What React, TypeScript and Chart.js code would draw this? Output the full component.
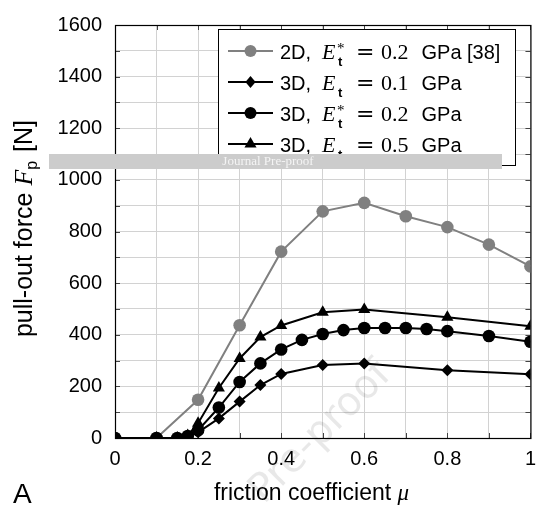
import React, { useEffect, useRef } from 'react';
import { Chart, registerables } from 'chart.js';

Chart.register(...registerables);

// ---------------- data ----------------
const mu2D = [0, 0.1, 0.2, 0.3, 0.4, 0.5, 0.6, 0.7, 0.8, 0.9, 1.0];
const force2D = [0, 0, 148, 437, 722, 878, 911, 859, 817, 749, 665];

const mu3D01 = [0, 0.1, 0.15, 0.175, 0.2, 0.25, 0.3, 0.35, 0.4, 0.5, 0.6, 0.8, 1.0];
const force3D01 = [0, 0, 0, 5, 22, 76, 141, 205, 248, 283, 289, 262, 247];

const mu3D02 = [0, 0.1, 0.15, 0.175, 0.2, 0.25, 0.3, 0.35, 0.4, 0.45, 0.5, 0.55, 0.6, 0.65, 0.7, 0.75, 0.8, 0.9, 1.0];
const force3D02 = [0, 0, 0, 8, 30, 118, 217, 289, 343, 380, 403, 418, 426, 426, 426, 422, 414, 395, 373];

const mu3D05 = [0, 0.1, 0.15, 0.175, 0.2, 0.25, 0.3, 0.35, 0.4, 0.5, 0.6, 0.8, 1.0];
const force3D05 = [0, 0, 0, 10, 57, 194, 308, 391, 436, 487, 498, 468, 433];

const xTickValues = [0, 0.2, 0.4, 0.6, 0.8, 1];
const xTickLabels = ['0', '0.2', '0.4', '0.6', '0.8', '1'];
const yTickValues = [0, 200, 400, 600, 800, 1000, 1200, 1400, 1600];
const yTickLabels = ['0', '200', '400', '600', '800', '1000', '1200', '1400', '1600'];

// legend rows: prefix, star superscript?, value, unit, reference
const legendPrefix = ['2D, ', '3D, ', '3D, ', '3D, '];
const legendStar = [true, false, true, false];
const legendValue = ['0.2', '0.1', '0.2', '0.5'];
const legendUnit = ['GPa', 'GPa', 'GPa', 'GPa'];
const legendRef = ['[38]', '', '', ''];
const legendMarker = ['circle', 'rectRot', 'circle', 'triangle'];
const legendColor = ['#808080', '#000000', '#000000', '#000000'];

const xTitle = 'friction coefficient ';
const xTitleSymbol = 'μ';
const yTitleText = 'pull-out force ';
const yTitleSymbol = 'F';
const yTitleSub = 'p';
const yTitleUnit = ' [N]';
const panelLabel = 'A';
const barText = 'Journal Pre-proof';
const diagText = 'Pre-proof';

const SANS = "'Liberation Sans', Arial, sans-serif";
const SERIF = "'Liberation Serif', 'Times New Roman', serif";
const MATH = "'DejaVu Serif', serif";

function pairs(xs: number[], ys: number[]) {
  return xs.map((x, i) => ({ x, y: ys[i] }));
}

function drawMarker(ctx: CanvasRenderingContext2D, style: string, x: number, y: number, r: number, color: string) {
  ctx.save();
  ctx.fillStyle = color;
  ctx.beginPath();
  if (style === 'circle') {
    ctx.arc(x, y, r, 0, Math.PI * 2);
  } else if (style === 'rectRot') {
    ctx.moveTo(x, y - r);
    ctx.lineTo(x + r * 0.85, y);
    ctx.lineTo(x, y + r);
    ctx.lineTo(x - r * 0.85, y);
    ctx.closePath();
  } else if (style === 'triangle') {
    ctx.moveTo(x, y - r);
    ctx.lineTo(x + r * 0.866, y + r * 0.5);
    ctx.lineTo(x - r * 0.866, y + r * 0.5);
    ctx.closePath();
  }
  ctx.fill();
  ctx.restore();
}

const decorPlugin = {
  id: 'decor',
  beforeDatasetsDraw(chart: any) {
    const ctx: CanvasRenderingContext2D = chart.ctx;
    const { left, right, top, bottom } = chart.chartArea;
    const xs = chart.scales.x;
    const ys = chart.scales.y;

    // diagonal watermark
    ctx.save();
    ctx.translate(321, 433);
    ctx.rotate(-Math.PI / 4);
    ctx.font = `40px 'DejaVu Sans', sans-serif`;
    ctx.fillStyle = 'rgba(0,0,0,0.09)';
    ctx.textAlign = 'center';
    ctx.textBaseline = 'middle';
    ctx.fillText(diagText, 0, 0);
    ctx.restore();

    // tick marks
    ctx.save();
    ctx.strokeStyle = '#444';
    ctx.lineWidth = 1;
    ctx.beginPath();
    for (let i = 0; i <= 10; i++) {
      const px = Math.round(xs.getPixelForValue(i / 10)) + 0.5;
      ctx.moveTo(px, bottom);
      ctx.lineTo(px, bottom - 5);
      ctx.moveTo(px, top);
      ctx.lineTo(px, top + 5);
    }
    for (let v = 0; v <= 1600; v += 100) {
      const py = Math.round(ys.getPixelForValue(v)) + 0.5;
      ctx.moveTo(left, py);
      ctx.lineTo(left + 5, py);
      ctx.moveTo(right, py);
      ctx.lineTo(right - 5, py);
    }
    ctx.stroke();
    // frame
    ctx.strokeStyle = '#000';
    ctx.lineWidth = 1.2;
    ctx.strokeRect(left + 0.5, top + 0.5, right - left, bottom - top);
    ctx.restore();
  },
  afterDatasetsDraw(chart: any) {
    const ctx: CanvasRenderingContext2D = chart.ctx;
    // legend box
    ctx.save();
    ctx.fillStyle = '#fff';
    ctx.fillRect(218.5, 29.5, 297, 136);
    ctx.strokeStyle = '#000';
    ctx.lineWidth = 1;
    ctx.strokeRect(218.5, 29.5, 297, 136);
    const baselines = [58.5, 89.5, 120.5, 151.5];
    for (let i = 0; i < 4; i++) {
      const b = baselines[i];
      const cy = b - 7.5;
      ctx.strokeStyle = legendColor[i];
      ctx.lineWidth = 2;
      ctx.beginPath();
      ctx.moveTo(228, cy);
      ctx.lineTo(273, cy);
      ctx.stroke();
      drawMarker(ctx, legendMarker[i], 250.5, cy, legendMarker[i] === 'triangle' ? 7 : 6, legendColor[i]);
      ctx.fillStyle = '#000';
      ctx.textBaseline = 'alphabetic';
      ctx.textAlign = 'left';
      ctx.font = `20px ${SANS}`;
      ctx.fillText(legendPrefix[i], 280, b);
      ctx.font = `italic 22px ${SERIF}`;
      ctx.fillText('E', 322, b);
      if (legendStar[i]) {
        ctx.font = `15px ${SERIF}`;
        ctx.fillText('*', 337, b - 6);
      }
      ctx.font = `bold 13px ${SANS}`;
      ctx.fillText('t', 338, b + 7);
      ctx.font = `22px ${MATH}`;
      ctx.fillText('=', 356, b);
      ctx.font = `22px ${SERIF}`;
      ctx.fillText(legendValue[i], 381, b);
      ctx.font = `20px ${SANS}`;
      ctx.fillText(legendUnit[i], 421.5, b);
      if (legendRef[i]) ctx.fillText(legendRef[i], 467, b);
    }
    ctx.restore();
  },
  afterDraw(chart: any) {
    const ctx: CanvasRenderingContext2D = chart.ctx;
    ctx.save();
    ctx.fillStyle = '#000';
    ctx.textBaseline = 'alphabetic';
    ctx.textAlign = 'left';
    // x title
    ctx.font = `23px ${SANS}`;
    const w1 = ctx.measureText(xTitle).width;
    ctx.font = `italic 23px ${SERIF}`;
    const w2 = ctx.measureText(xTitleSymbol).width;
    const x0 = 311.5 - (w1 + w2) / 2;
    ctx.font = `23px ${SANS}`;
    ctx.fillText(xTitle, x0, 500);
    ctx.font = `italic 23px ${SERIF}`;
    ctx.fillText(xTitleSymbol, x0 + w1, 500);

    // y title
    ctx.save();
    ctx.translate(32, 228.5);
    ctx.rotate(-Math.PI / 2);
    ctx.font = `25px ${SANS}`;
    const a1 = ctx.measureText(yTitleText).width;
    const a4 = ctx.measureText(yTitleUnit).width;
    ctx.font = `italic 26px ${SERIF}`;
    const a2 = ctx.measureText(yTitleSymbol).width;
    ctx.font = `16px ${SANS}`;
    const a3 = ctx.measureText(yTitleSub).width;
    const total = a1 + a2 + a3 + a4 + 2;
    let cx = -total / 2;
    ctx.font = `25px ${SANS}`;
    ctx.fillText(yTitleText, cx, 0);
    cx += a1;
    ctx.font = `italic 26px ${SERIF}`;
    ctx.fillText(yTitleSymbol, cx, 0);
    cx += a2;
    ctx.font = `16px ${SANS}`;
    ctx.fillText(yTitleSub, cx, 5);
    cx += a3 + 2;
    ctx.font = `25px ${SANS}`;
    ctx.fillText(yTitleUnit, cx, 0);
    ctx.restore();

    // panel label
    ctx.font = `28px ${SANS}`;
    ctx.fillText(panelLabel, 13, 503);

    // journal bar
    ctx.fillStyle = '#cccccc';
    ctx.fillRect(49, 154, 453, 15);
    ctx.fillStyle = '#f4f4f4';
    ctx.font = `13px ${SERIF}`;
    ctx.textAlign = 'center';
    ctx.textBaseline = 'middle';
    ctx.fillText(barText, 268, 161.5);
    ctx.restore();
  },
};

export default function App() {
  const canvasRef = useRef<HTMLCanvasElement | null>(null);

  useEffect(() => {
    const canvas = canvasRef.current;
    if (!canvas) return;
    const tickFont = { family: SANS, size: 20 };
    const chart = new Chart(canvas, {
      type: 'line',
      data: {
        datasets: [
          {
            label: '3D, Et = 0.5 GPa',
            data: pairs(mu3D05, force3D05),
            borderColor: '#000',
            backgroundColor: '#000',
            pointBackgroundColor: '#000',
            pointBorderColor: '#000',
            pointStyle: 'triangle',
            pointRadius: 7,
            pointBorderWidth: 0,
            borderWidth: 2,
          },
          {
            label: '3D, Et* = 0.2 GPa',
            data: pairs(mu3D02, force3D02),
            borderColor: '#000',
            backgroundColor: '#000',
            pointBackgroundColor: '#000',
            pointBorderColor: '#000',
            pointStyle: 'circle',
            pointRadius: 6.3,
            pointBorderWidth: 0,
            borderWidth: 2,
          },
          {
            label: '3D, Et = 0.1 GPa',
            data: pairs(mu3D01, force3D01),
            borderColor: '#000',
            backgroundColor: '#000',
            pointBackgroundColor: '#000',
            pointBorderColor: '#000',
            pointStyle: 'rectRot',
            pointRadius: 6,
            pointBorderWidth: 0,
            borderWidth: 2,
          },
          {
            label: '2D, Et* = 0.2 GPa [38]',
            data: pairs(mu2D, force2D),
            borderColor: '#808080',
            backgroundColor: '#808080',
            pointBackgroundColor: '#808080',
            pointBorderColor: '#808080',
            pointStyle: 'circle',
            pointRadius: 6.3,
            pointBorderWidth: 0,
            borderWidth: 2,
          },
        ],
      },
      options: {
        animation: false,
        responsive: false,
        maintainAspectRatio: false,
        layout: { padding: { top: 16, right: 8, left: 0, bottom: 0 } },
        plugins: { legend: { display: false }, tooltip: { enabled: false } },
        elements: { line: { tension: 0 } },
        scales: {
          x: {
            type: 'linear',
            min: 0,
            max: 1,
            border: { display: false },
            grid: { color: '#d2d2d2', lineWidth: 1, drawTicks: false },
            ticks: {
              stepSize: 0.1,
              autoSkip: false,
              maxRotation: 0,
              padding: 9,
              color: '#000',
              font: tickFont,
              callback: (v: any) => {
                const idx = xTickValues.findIndex((t) => Math.abs(t - Number(v)) < 1e-6);
                return idx >= 0 ? xTickLabels[idx] : '';
              },
            },
            afterFit: (s: any) => {
              s.height = 71;
            },
          },
          y: {
            type: 'linear',
            min: 0,
            max: 1600,
            border: { display: false },
            grid: { color: '#d2d2d2', lineWidth: 1, drawTicks: false },
            ticks: {
              stepSize: 100,
              autoSkip: false,
              padding: 13,
              color: '#000',
              font: tickFont,
              callback: (v: any) => {
                const idx = yTickValues.findIndex((t) => Math.abs(t - Number(v)) < 1e-6);
                return idx >= 0 ? yTickLabels[idx] : '';
              },
            },
            afterFit: (s: any) => {
              s.width = 115;
            },
          },
        },
      } as any,
      plugins: [decorPlugin],
    });
    return () => chart.destroy();
  }, []);

  return (
    <div style={{ position: 'absolute', left: 0, top: 0, width: 545, height: 509, background: '#fff' }}>
      <canvas ref={canvasRef} width={545} height={509} style={{ display: 'block', width: 545, height: 509 }} />
    </div>
  );
}
